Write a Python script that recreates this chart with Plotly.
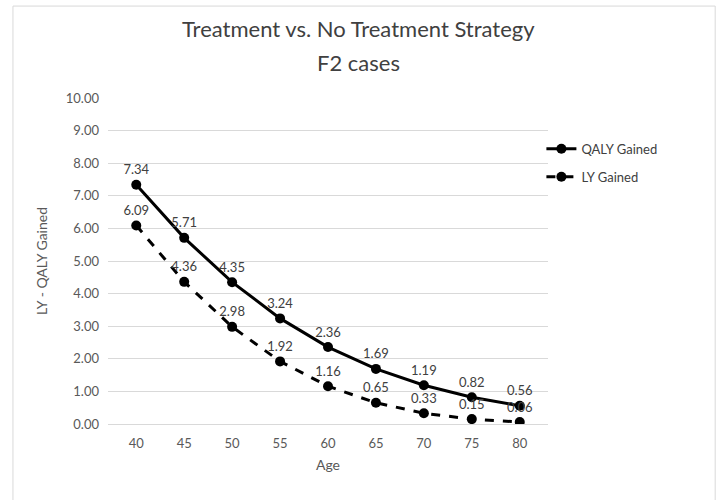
import plotly.graph_objects as go

ages = ["40", "45", "50", "55", "60", "65", "70", "75", "80"]
qaly = [7.34, 5.71, 4.35, 3.24, 2.36, 1.69, 1.19, 0.82, 0.56]
ly = [6.09, 4.36, 2.98, 1.92, 1.16, 0.65, 0.33, 0.15, 0.06]
title_lines = ["Treatment vs. No Treatment Strategy", "F2 cases"]

FONT = "Lato"
fig = go.Figure()
fig.add_trace(go.Scatter(
    x=ages, y=qaly, name="QALY Gained", legendgroup="a", mode="lines+markers+text",
    line=dict(color="black", width=3),
    marker=dict(color="black", size=10),
    text=[f"{v:.2f}" for v in qaly], textposition="top center",
    textfont=dict(family=FONT, size=13, color="#404040"),
))
fig.add_trace(go.Scatter(
    x=ages, y=ly, name="LY Gained", legendgroup="b", mode="lines+markers+text",
    line=dict(color="black", width=3, dash="dash"),
    marker=dict(color="black", size=10),
    text=[f"{v:.2f}" for v in ly], textposition="top center",
    textfont=dict(family=FONT, size=13, color="#404040"),
))

fig.update_layout(
    width=718, height=500,
    margin=dict(l=108, r=170, t=98, b=76),
    paper_bgcolor="white", plot_bgcolor="white",
    font=dict(family=FONT, color="#595959", size=13),
    xaxis=dict(title=dict(text="Age", font=dict(size=14, color="#595959"), standoff=10),
               showgrid=False, zeroline=False, showline=False, ticks="",
               ticklabelstandoff=10,
               tickfont=dict(size=13, color="#595959")),
    yaxis=dict(title=dict(text="LY - QALY Gained", font=dict(size=14, color="#595959"), standoff=14),
               range=[0, 10], dtick=1, tickformat=".2f",
               showgrid=True, gridcolor="#d9d9d9", gridwidth=1,
               zeroline=True, zerolinecolor="#d9d9d9", zerolinewidth=1,
               showline=False, ticks="", ticklabelstandoff=8,
               tickfont=dict(size=13, color="#595959")),
    legend=dict(x=0.985, y=0.89, xanchor="left", yanchor="top",
                font=dict(family=FONT, size=13, color="#404040"),
                bgcolor="rgba(0,0,0,0)", tracegroupgap=8),
    showlegend=True,
    annotations=[
        dict(text=title_lines[0], xref="paper", yref="paper", x=0.57, y=1.2147,
             xanchor="center", yanchor="middle", showarrow=False,
             font=dict(family=FONT, size=22, color="#404040")),
        dict(text=title_lines[1], xref="paper", yref="paper", x=0.57, y=1.1074,
             xanchor="center", yanchor="middle", showarrow=False,
             font=dict(family=FONT, size=22, color="#404040")),
    ],
    shapes=[dict(type="rect", xref="paper", yref="paper",
                 x0=-0.216, x1=1.380, y0=-0.27, y1=1.282,
                 line=dict(color="#d9d9d9", width=1), fillcolor="rgba(0,0,0,0)")],
)

fig.write_html("out.html")
